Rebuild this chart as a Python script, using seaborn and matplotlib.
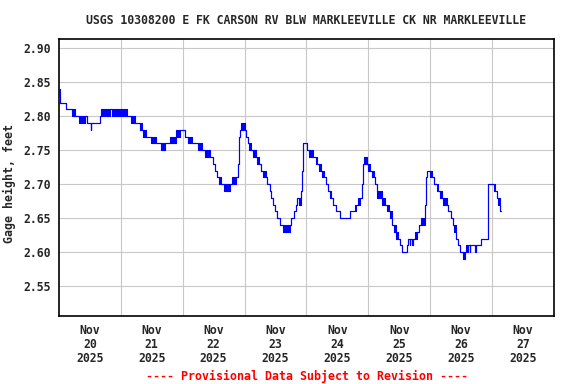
import pandas as pd
import matplotlib
matplotlib.use("Agg")
import matplotlib.pyplot as plt
import seaborn as sns

# Gage height readings.
# hours after 2025-11-20 00:00; low/high give the range the 15-min values
# flicker between (equal when the reading holds steady)
step_hours = [
    # Nov 20
    0.0, 0.6, 2.9, 5.1, 6.2, 7.8, 10.3, 11.1, 12.3, 12.6,
    15.9, 16.3, 19.7, 20.6, 22.0, 22.6, 26.4, 27.9, 29.4, 31.4,
    31.7, 32.4, 32.8, 33.8, 35.9, 37.5, 39.5, 41.3, 43.3, 45.4,
    46.8,
    # Nov 21-22
    49.0, 49.9, 51.6, 53.8, 55.5, 56.8, 58.8, 59.8, 60.6, 61.4,
    62.0, 62.9, 64.0, 66.5, 67.3, 68.8, 69.6, 69.8, 70.0, 70.2,
    70.8, 72.1, 72.6, 73.3, 73.6, 74.7, 75.3, 76.3, 77.0, 77.5,
    78.5, 79.2, 80.2, 80.7, 81.8, 82.4, 83.1, 84.0, 84.7, 85.6,
    86.9, 89.5, 90.2, 91.0, 91.8, 92.5, 93.2, 93.9, 94.3, 94.5,
    # Nov 24-25
    96.3, 96.9, 98.6, 99.6, 100.2, 100.9, 101.6, 102.0, 102.7, 103.7,
    104.4, 105.0, 105.7, 106.5, 107.4, 108.9, 112.8, 114.7, 115.4, 115.9,
    116.9, 117.4, 117.7, 117.9, 118.4, 119.5, 120.0, 120.8, 121.5, 122.2,
    122.7, 123.5, 125.3, 126.5, 127.4, 127.9, 128.5, 129.3, 129.9, 130.6,
    131.4, 132.2, 133.1, 135.1, 135.5, 136.0, 136.3, 137.0, 137.3, 138.0,
    138.8, 139.5, 140.6, 141.2, 141.6, 142.0, 142.3, 142.6,
    # Nov 26-27
    143.9, 144.8, 145.5, 146.5, 147.2, 147.9, 148.5, 149.0, 150.4, 151.0,
    152.0, 152.7, 153.3, 153.9, 154.7, 155.4, 156.7, 157.4, 157.9, 158.7,
    159.3, 159.6, 161.3, 161.6, 163.8, 166.4, 166.6, 168.7, 169.2, 169.8,
    170.3, 170.9, 171.1, 171.3,
]
gage_low = [
    2.83, 2.82, 2.81, 2.80, 2.80, 2.79, 2.80, 2.79, 2.78, 2.79,
    2.80, 2.80, 2.81, 2.80, 2.81, 2.80, 2.80, 2.79, 2.79, 2.78,
    2.78, 2.78, 2.77, 2.77, 2.76, 2.76, 2.75, 2.76, 2.76, 2.77,
    2.78,
    2.77, 2.76, 2.76, 2.75, 2.75, 2.74, 2.74, 2.73, 2.72, 2.71,
    2.70, 2.70, 2.69, 2.70, 2.70, 2.71, 2.73, 2.76, 2.77, 2.78,
    2.78, 2.78, 2.77, 2.76, 2.75, 2.75, 2.74, 2.74, 2.73, 2.73,
    2.72, 2.71, 2.71, 2.70, 2.69, 2.68, 2.67, 2.66, 2.65, 2.64,
    2.63, 2.64, 2.65, 2.66, 2.67, 2.68, 2.67, 2.69, 2.72, 2.76,
    2.75, 2.74, 2.74, 2.73, 2.73, 2.72, 2.72, 2.71, 2.71, 2.70,
    2.69, 2.68, 2.68, 2.67, 2.66, 2.65, 2.66, 2.66, 2.67, 2.67,
    2.68, 2.69, 2.70, 2.73, 2.73, 2.73, 2.72, 2.72, 2.71, 2.71,
    2.70, 2.68, 2.67, 2.67, 2.66, 2.66, 2.65, 2.64, 2.63, 2.62,
    2.62, 2.61, 2.60, 2.61, 2.62, 2.61, 2.62, 2.61, 2.62, 2.62,
    2.63, 2.64, 2.64, 2.64, 2.64, 2.67, 2.71, 2.72,
    2.71, 2.71, 2.70, 2.69, 2.69, 2.68, 2.68, 2.67, 2.67, 2.66,
    2.65, 2.64, 2.63, 2.62, 2.61, 2.60, 2.59, 2.60, 2.60, 2.61,
    2.60, 2.61, 2.60, 2.61, 2.62, 2.64, 2.70, 2.69, 2.69, 2.68,
    2.67, 2.67, 2.66, 2.66,
]
gage_high = [
    2.84, 2.82, 2.81, 2.81, 2.80, 2.80, 2.80, 2.79, 2.78, 2.79,
    2.80, 2.81, 2.81, 2.81, 2.81, 2.81, 2.80, 2.80, 2.79, 2.78,
    2.79, 2.78, 2.78, 2.77, 2.77, 2.76, 2.76, 2.76, 2.77, 2.78,
    2.78,
    2.77, 2.77, 2.76, 2.76, 2.75, 2.75, 2.74, 2.73, 2.72, 2.71,
    2.71, 2.70, 2.70, 2.70, 2.71, 2.71, 2.73, 2.76, 2.77, 2.78,
    2.79, 2.78, 2.77, 2.76, 2.76, 2.75, 2.75, 2.74, 2.74, 2.73,
    2.72, 2.72, 2.71, 2.70, 2.69, 2.68, 2.67, 2.66, 2.65, 2.64,
    2.64, 2.64, 2.65, 2.66, 2.67, 2.68, 2.68, 2.69, 2.72, 2.76,
    2.75, 2.75, 2.74, 2.74, 2.73, 2.73, 2.72, 2.72, 2.71, 2.70,
    2.69, 2.69, 2.68, 2.67, 2.66, 2.65, 2.66, 2.67, 2.67, 2.68,
    2.68, 2.69, 2.70, 2.73, 2.74, 2.73, 2.73, 2.72, 2.72, 2.71,
    2.70, 2.69, 2.68, 2.67, 2.67, 2.66, 2.66, 2.64, 2.64, 2.63,
    2.62, 2.61, 2.60, 2.61, 2.62, 2.61, 2.62, 2.61, 2.62, 2.63,
    2.63, 2.64, 2.65, 2.64, 2.65, 2.67, 2.71, 2.72,
    2.72, 2.71, 2.70, 2.70, 2.69, 2.69, 2.68, 2.68, 2.67, 2.66,
    2.65, 2.64, 2.64, 2.62, 2.61, 2.60, 2.60, 2.60, 2.61, 2.61,
    2.60, 2.61, 2.60, 2.61, 2.62, 2.64, 2.70, 2.70, 2.69, 2.68,
    2.68, 2.67, 2.66, 2.66,
]

day_labels = ["Nov\n20\n2025", "Nov\n21\n2025", "Nov\n22\n2025", "Nov\n23\n2025",
              "Nov\n24\n2025", "Nov\n25\n2025", "Nov\n26\n2025", "Nov\n27\n2025"]
ytick_vals = [2.55, 2.60, 2.65, 2.70, 2.75, 2.80, 2.85, 2.90]

title = "USGS 10308200 E FK CARSON RV BLW MARKLEEVILLE CK NR MARKLEEVILLE"
footer = "---- Provisional Data Subject to Revision ----"

if __name__ == "__main__":
    start = pd.Timestamp("2025-11-20")
    df = pd.DataFrame({"hours": step_hours, "low": gage_low, "high": gage_high})
    df["time"] = start + pd.to_timedelta(df["hours"], unit="h")

    sns.set_style("white")
    plt.rcParams["font.family"] = ["DejaVu Sans Mono"]
    plt.rcParams["font.weight"] = "bold"

    fig = plt.figure(figsize=(5.76, 3.84), dpi=100)
    ax = fig.add_axes([0.1021, 0.1771, 0.8597, 0.7206])

    blue = "#0000ff"
    ax.fill_between(df["time"], df["low"], df["high"], step="post",
                    color=blue, linewidth=0.6, zorder=3)
    sns.lineplot(data=df, x="time", y="low", ax=ax, color=blue, lw=0.8,
                 drawstyle="steps-post", estimator=None, zorder=4)
    sns.lineplot(data=df, x="time", y="high", ax=ax, color=blue, lw=0.8,
                 drawstyle="steps-post", estimator=None, zorder=4)

    # limits, ticks: labels at noon, grid at midnight
    ax.set_xlim(start, start + pd.Timedelta(days=8))
    ax.set_ylim(2.5063, 2.9132)
    noons = [start + pd.Timedelta(hours=12 + 24 * i) for i in range(len(day_labels))]
    midnights = [start + pd.Timedelta(days=i) for i in range(1, 8)]
    ax.set_xticks(noons)
    ax.set_xticklabels(day_labels, linespacing=1.1)
    ax.set_xticks(midnights, minor=True)
    ax.set_yticks(ytick_vals)
    ax.set_yticklabels(["%.2f" % v for v in ytick_vals])
    ax.tick_params(axis="both", which="both", length=0, labelsize=8.3)
    ax.tick_params(axis="y", pad=6)
    ax.tick_params(axis="x", pad=6)

    ax.set_axisbelow(True)
    ax.yaxis.grid(True, color="#c8c8c8", lw=0.8)
    ax.xaxis.grid(True, which="minor", color="#c8c8c8", lw=0.8)
    ax.xaxis.grid(False, which="major")
    for s in ax.spines.values():
        s.set_visible(True)
        s.set_color("black")
        s.set_linewidth(1.2)

    ax.set_xlabel("")
    ax.set_ylabel("Gage height, feet", fontsize=8.4, fontweight="bold")
    ax.yaxis.set_label_coords(-0.0855, 0.48)

    fig.text(306.5 / 576, 1 - 20 / 384, title, ha="center", va="center",
             fontsize=8.3, fontweight="bold")
    fig.text(306.5 / 576, 1 - 376 / 384, footer, ha="center", va="center",
             fontsize=8.4, fontweight="bold", color="red")

    plt.savefig("out.png", dpi=100, facecolor="white")
